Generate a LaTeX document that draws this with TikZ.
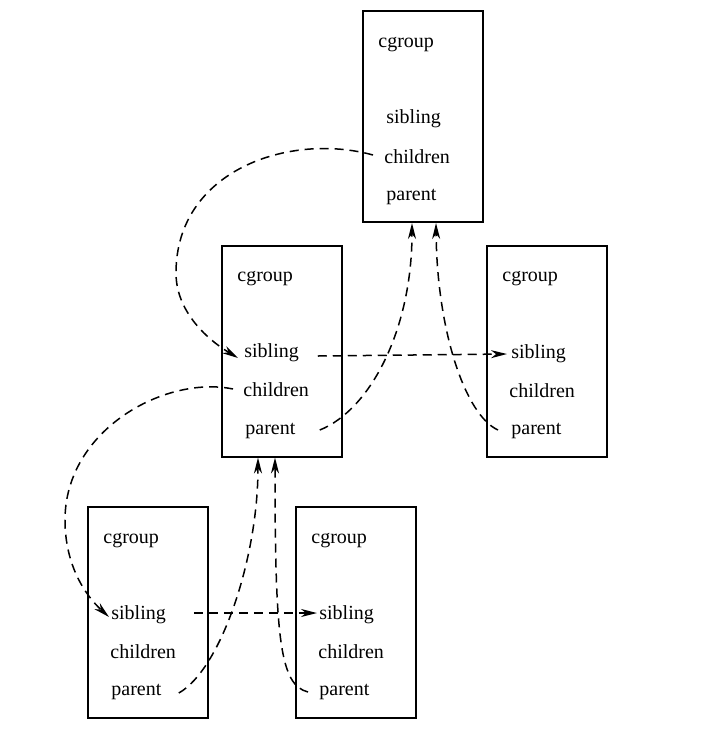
\documentclass[tikz,border=0pt]{standalone}
\usepackage{fontspec}
\setmainfont{Liberation Serif}
\usetikzlibrary{arrows.meta}

\tikzset{
	cgbox/.style={draw, line width=1pt, minimum width=60pt, minimum height=105.5pt, inner sep=0pt},
	field/.style={anchor=base west, inner sep=0pt, font=\fontsize{10}{12}\selectfont},
	link/.style={dash pattern=on 4.5pt off 3pt, line width=0.75pt},
	linkto/.style={link, -{Stealth[length=8pt,width=4pt,inset=2.5pt]}}
}

\begin{document}
\begin{tikzpicture}[x=0.5pt,y=-0.5pt]
		\useasboundingbox (0,0) rectangle (713,746);
		
		% Draw cgroup boxes
		\node[cgbox] (top) at (422.5,116.5) {};
		\node[cgbox] (midl) at (281.5,351) {};
		\node[cgbox] (midr) at (547,351) {};
		\node[cgbox] (botl) at (148,612.5) {};
		\node[cgbox] (botr) at (356,612.5) {};
		
		% Top cgroup
		\node[field] (topname) at (378,47) {cgroup};
		\node[field] (topsib) at (386,123) {sibling};
		\node[field] (topchild) at (384,163) {children};
		\node[field] (toppar) at (386,200) {parent};
		
		% Middle left cgroup
		\node[field] (midlname) at (237,281) {cgroup};
		\node[field] (midlsib) at (244,357) {sibling};
		\node[field] (midlchild) at (243,396) {children};
		\node[field] (midlpar) at (245,434) {parent};
		
		% Middle right cgroup
		\node[field] (midrname) at (502,281) {cgroup};
		\node[field] (midrsib) at (511,358) {sibling};
		\node[field] (midrchild) at (509,397) {children};
		\node[field] (midrpar) at (511,434) {parent};
		
		% Bottom left cgroup
		\node[field] (botlname) at (103,543) {cgroup};
		\node[field] (botlsib) at (111,619) {sibling};
		\node[field] (botlchild) at (110,658) {children};
		\node[field] (botlpar) at (111,695) {parent};
		
		% Bottom right cgroup
		\node[field] (botrname) at (311,543) {cgroup};
		\node[field] (botrsib) at (319,619) {sibling};
		\node[field] (botrchild) at (318,658) {children};
		\node[field] (botrpar) at (319,695) {parent};
		
		
		% Draw children lines
		\draw[linkto] ([xshift=-5.5pt,yshift=4pt]topchild.base west) .. controls (290,132) and (176,170) .. (176,273) .. controls (176,310) and (205,338) .. ([xshift=-3pt,yshift=-0.5pt]midlsib.base west);
		\draw[linkto] ([xshift=-5pt,yshift=3.5pt]midlchild.base west) .. controls (165,375) and (65,430) .. (65,520) .. controls (65,565) and (85,595) .. ([xshift=-1pt,yshift=1pt]botlsib.base west);
		
		% Draw sibling lines
		\draw[linkto] ([xshift=9.25pt,yshift=0.5pt]midlsib.base east) -- ([xshift=-2pt,yshift=2pt]midrsib.base west);
		\draw[linkto] ([xshift=13.75pt,yshift=3pt]botlsib.base east) -- ([xshift=-1pt,yshift=3pt]botrsib.base west);
		
		% Draw parent lines
		\draw[linkto] ([xshift=12pt,yshift=2pt]midlpar.base east) .. controls (370,410) and (412,330) .. ([xshift=-5.25pt]top.south);
		\draw[linkto] ([xshift=-6.5pt,yshift=2pt]midrpar.base west) .. controls (465,415) and (437,330) .. ([xshift=6.75pt]top.south);
		\draw[linkto] ([xshift=8.5pt,yshift=1pt]botlpar.base east) .. controls (220,670) and (258,560) .. ([xshift=-11.75pt]midl.south);
		\draw[linkto] ([xshift=-5.5pt,yshift=1.5pt]botrpar.base west) .. controls (280,685) and (275,640) .. ([xshift=-3.25pt]midl.south);
		
\end{tikzpicture}
\end{document}
